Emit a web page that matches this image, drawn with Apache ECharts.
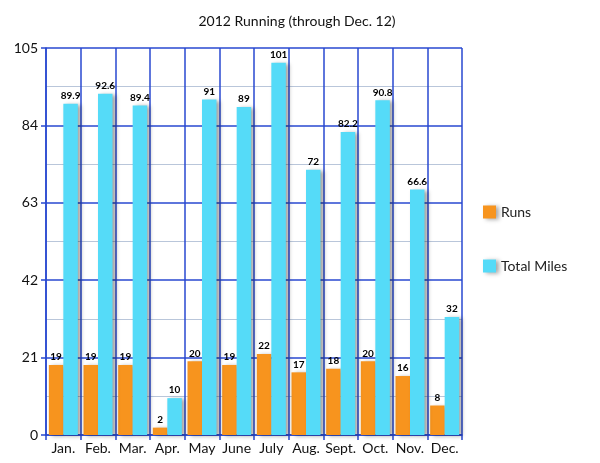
<!DOCTYPE html>
<html><head><meta charset="utf-8">
<script src="https://cdn.jsdelivr.net/npm/echarts@6/dist/echarts.min.js"></script>
<style>html,body{margin:0;padding:0;background:#fff}#c{width:600px;height:463px}</style>
</head><body><div id="c"></div>
<script>
const categories = ['Jan.','Feb.','Mar.','Apr.','May','June','July','Aug.','Sept.','Oct.','Nov.','Dec.'];
const runs = [19,19,19,2,20,19,22,17,18,20,16,8];
const totalMiles = [89.9,92.6,89.4,10,91,89,101,72,82.2,90.8,66.6,32];
const yTicks = [0,21,42,63,84,105];

const FONT = 'Lato';
const BLUE = '#2848D0';
const shadow = {shadowBlur:4, shadowOffsetX:3, shadowOffsetY:1, shadowColor:'rgba(0,0,0,0.35)'};
const chart = echarts.init(document.getElementById('c'));
chart.setOption({
  animation:false,
  textStyle:{fontFamily:FONT},
  title:{text:'2012 Running (through Dec. 12)', left:292, top:9, textAlign:'center',
    textStyle:{fontFamily:FONT, fontSize:14, fontWeight:'normal', color:'#111'}},
  legend:{orient:'vertical', left:478, top:200, itemGap:40, itemWidth:13, itemHeight:13,
    icon:'rect', textStyle:{fontFamily:FONT, fontSize:14, color:'#222'},
    data:[{name:'Runs', itemStyle:Object.assign({color:'#F7941E'},shadow)},{name:'Total Miles', itemStyle:Object.assign({color:'#55DBF8'},shadow)}]},
  grid:{left:46, right:138, top:48, bottom:28},
  xAxis:{type:'category', data:categories,
    axisLine:{lineStyle:{color:BLUE, width:1.5}},
    axisTick:{show:true, interval:0, length:5, lineStyle:{color:BLUE, width:1.5}},
    axisLabel:{interval:0, fontFamily:FONT, fontSize:14, color:'#111', margin:6},
    splitLine:{show:true, interval:0, lineStyle:{color:BLUE, width:1.5}}},
  yAxis:{type:'value', min:0, max:105, interval:21,
    axisLine:{show:true, lineStyle:{color:BLUE, width:1.5}},
    axisTick:{show:true, length:5, lineStyle:{color:BLUE, width:1.5}},
    axisLabel:{fontFamily:FONT, fontSize:14, color:'#111', margin:8,
      formatter:v=>yTicks.includes(v)?String(v):''},
    splitLine:{show:true, lineStyle:{color:BLUE, width:1.5}},
    minorTick:{show:false, splitNumber:2},
    minorSplitLine:{show:true, lineStyle:{color:'#B9C6DA', width:1}}},
  series:[
    {name:'Runs', type:'bar', data:runs, barWidth:14.5, barGap:'0%',
     itemStyle:Object.assign({color:'#F7941E'},shadow),
     label:{show:true, position:'top', distance:3, fontFamily:FONT, fontWeight:'bold', fontSize:10, color:'#000'}},
    {name:'Total Miles', type:'bar', data:totalMiles, barWidth:14.5,
     itemStyle:Object.assign({color:'#55DBF8'},shadow),
     label:{show:true, position:'top', distance:3, fontFamily:FONT, fontWeight:'bold', fontSize:10, color:'#000'}}
  ]
});
</script></body></html>
